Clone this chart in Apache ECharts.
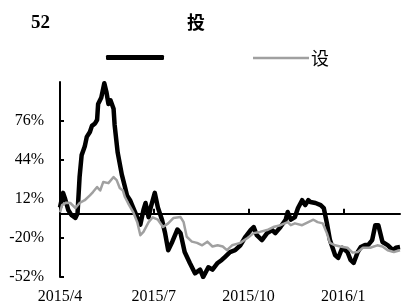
<!DOCTYPE html>
<html>
<head>
<meta charset="utf-8">
<script src="https://cdn.jsdelivr.net/npm/echarts@6/dist/echarts.min.js"></script>
<style>
html, body { margin: 0; padding: 0; background: #fff; }
#main { width: 411px; height: 308px; }
</style>
</head>
<body>
<div id="main"></div>
<script>
// 数据：横轴为自 2015/4/1 起的天数，纵轴为涨跌幅(%)
var tickDays = [0, 91, 183, 275];
var tickLabels = ['2015/4', '2015/7', '2015/10', '2016/1'];

var blackName = '投';
var blackDays = [0, 3, 5, 8, 11, 15, 17, 19, 21, 24, 26, 29, 31, 34, 36, 37, 40, 43, 45, 47,
	49, 52, 53, 56, 60, 63, 65, 68, 71, 75, 78, 81, 83, 86, 88, 92, 95, 99, 102, 105,
	109, 114, 117, 121, 126, 131, 136, 139, 144, 148, 153, 157, 160, 165, 170, 175, 180, 185, 188, 191,
	196, 201, 206, 209, 214, 219, 221, 224, 228, 231, 235, 238, 241, 243, 248, 253, 256, 259, 262, 267,
	270, 274, 279, 282, 285, 289, 292, 296, 299, 303, 306, 309, 313, 318, 323, 326, 330];
var blackValues = [5, 17, 12, 3, -1, -3.5, 0, 30, 48, 55, 63, 67, 72, 74, 77, 90, 95, 107, 100, 90,
	93, 86, 73, 50, 32, 22, 15, 11, 5, -3, -9, 3, 8.7, -3, 5, 17, 5, -5, -16, -30,
	-23, -13, -16, -31.5, -40.5, -49, -46, -52, -44, -46, -40.5, -38, -35.6, -31.5, -30, -26, -19, -13.5, -11, -17.7,
	-21.7, -16, -13.5, -16, -11, -5, 1.3, -5, -2.8, 4.6, 11, 7, 11, 9.5, 8.7, 7, 4.6, -7.7, -21.7, -34,
	-36.4, -28, -31.5, -38, -40.5, -31.5, -27.4, -25.8, -25.8, -21.7, -9.5, -9.5, -23.3, -25.8, -30, -28, -27.4];

var grayName = '设';
var grayDays = [0, 2, 6, 10, 15, 19, 24, 29, 32, 36, 39, 42, 47, 52, 55, 58, 61, 63, 66, 71,
	75, 78, 81, 86, 90, 95, 100, 105, 110, 117, 120, 123, 128, 133, 138, 143, 148, 153, 158, 162,
	167, 175, 182, 188, 194, 201, 207, 214, 221, 224, 228, 235, 241, 246, 250, 255, 259, 262, 267, 272,
	279, 284, 289, 294, 301, 308, 313, 318, 324, 330];
var grayValues = [1, 7, 9, 8.7, 4.6, 8.7, 11, 15, 17.7, 21.8, 19, 26, 25, 30, 27.5, 21, 19, 13.6, 8.7, 1.3,
	-7, -17.7, -15, -7, -3, -5, -11, -8, -3.6, -2.8, -7, -19, -23, -24, -26, -23, -27, -26, -27, -30,
	-26, -24, -20, -16, -15, -13.5, -11, -9.5, -7, -9.5, -8, -9.5, -7, -5, -7, -8, -16, -24, -26, -27,
	-28, -32, -31.5, -28, -28, -26, -27, -30, -31.5, -30];

var pairs = function(xs, ys) {
	var out = [];
	for (var i = 0; i < xs.length; i++) {
		out.push([xs[i], ys[i]]);
	}
	return out;
};

var serif = '"Liberation Serif", "Times New Roman", serif';
var cjk = '"Noto Sans CJK SC", sans-serif';

var myChart = echarts.init(document.getElementById('main'));
var option = {
	animation: false,
	title: [{
		text: '52',
		left: 26,
		top: 9,
		textStyle: { fontFamily: serif, fontWeight: 'bold', fontSize: 19, color: '#000' }
	}, {
		text: '投',
		left: 182,
		top: 8,
		textStyle: { fontFamily: cjk, fontWeight: 'bold', fontSize: 18, color: '#000' }
	}],
	legend: [{
		data: [blackName],
		left: 101,
		top: 50,
		icon: 'roundRect',
		itemWidth: 58,
		itemHeight: 5,
		formatter: function() { return ''; },
		selectedMode: false
	}, {
		data: [grayName],
		left: 248,
		top: 44,
		icon: 'rect',
		itemWidth: 56,
		itemHeight: 2.5,
		itemGap: 4,
		selectedMode: false,
		textStyle: { fontFamily: cjk, fontSize: 18, color: '#000', padding: [0, 0, 0, -3] }
	}],
	grid: { left: 60, right: 11, top: 82, bottom: 31 },
	xAxis: [{
		type: 'value',
		min: 0,
		max: 330,
		position: 'bottom',
		axisLine: { show: false, onZero: false },
		axisTick: { show: false },
		splitLine: { show: false },
		axisLabel: {
			customValues: tickDays,
			margin: 12,
			fontFamily: serif,
			fontSize: 16,
			color: '#000',
			formatter: function(v) {
				var idx = tickDays.indexOf(v);
				return idx >= 0 ? tickLabels[idx] : '';
			}
		}
	}, {
		type: 'value',
		min: 0,
		max: 330,
		position: 'bottom',
		axisLine: { show: true, onZero: true, lineStyle: { color: '#000', width: 2 } },
		axisTick: { show: true, inside: true, length: 5, customValues: tickDays, lineStyle: { color: '#000', width: 2 } },
		axisLabel: { show: false },
		splitLine: { show: false }
	}],
	yAxis: {
		type: 'value',
		min: -52,
		max: 108,
		interval: 32,
		axisLine: { show: true, lineStyle: { color: '#000', width: 2 } },
		axisTick: { show: true, inside: true, length: 4, lineStyle: { color: '#000', width: 2 } },
		splitLine: { show: false },
		axisLabel: {
			margin: 16,
			fontFamily: serif,
			fontSize: 16,
			color: '#000',
			showMaxLabel: false,
			formatter: function(v) { return v + '%'; }
		}
	},
	series: [{
		name: blackName,
		type: 'line',
		xAxisIndex: 0,
		symbol: 'none',
		color: '#000',
		lineStyle: { color: '#000', width: 4.5, join: 'round' },
		data: pairs(blackDays, blackValues)
	}, {
		name: grayName,
		type: 'line',
		xAxisIndex: 0,
		symbol: 'none',
		color: '#a0a0a0',
		lineStyle: { color: '#a0a0a0', width: 2.5, join: 'round' },
		data: pairs(grayDays, grayValues)
	}]
};
myChart.setOption(option);
</script>
</body>
</html>
